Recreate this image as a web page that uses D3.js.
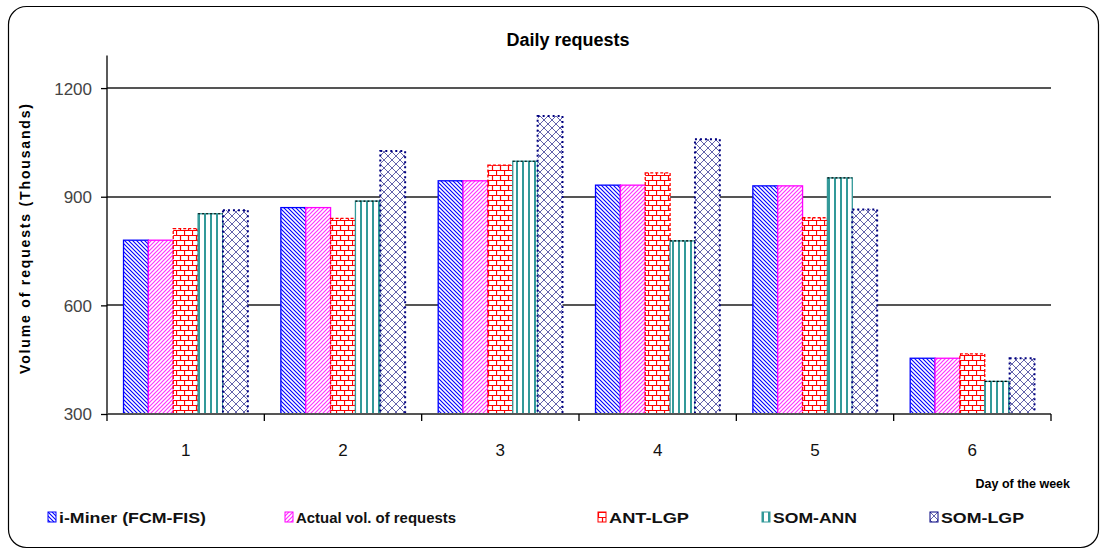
<!DOCTYPE html>
<html>
<head>
<meta charset="utf-8">
<script src="https://cdn.jsdelivr.net/npm/d3@7"></script>
<style>
  body { margin: 0; background: #fff; }
  text { font-family: "Liberation Sans", Arial, sans-serif; }
</style>
</head>
<body>
<svg id="svg" width="1105" height="554"></svg>
<script>
// data
const days = ["1", "2", "3", "4", "5", "6"];
const seriesNames = ["i-Miner (FCM-FIS)", "Actual vol. of requests", "ANT-LGP", "SOM-ANN", "SOM-LGP"];
const iMiner = [780, 870, 944, 932, 930, 454];
const actual = [780, 870, 944, 932, 930, 454];
const antLgp = [812, 840, 987, 966, 842, 466];
const somAnn = [853, 888, 998, 778, 952, 390];
const somLgp = [863, 1026, 1123, 1059, 865, 454];
const yTicks = [300, 600, 900, 1200];

const allSeries = [iMiner, actual, antLgp, somAnn, somLgp];
const patIds = ["pBlue", "pPink", "pBrick", "pTeal", "pNavy"];
const strokes = ["#0000ff", "#ff00ff", "#ff0000", "#339999", "#000080"];

let svg = d3.select("#svg");
let defs = svg.append("defs");

// patterns
let p = defs.append("pattern").attr("id", "pBlue").attr("patternUnits", "userSpaceOnUse").attr("width", 4).attr("height", 4);
p.append("rect").attr("width", 4).attr("height", 4).attr("fill", "#fff");
p.append("path").attr("d", "M-1,-1 L5,5 M-1,3 L1,5 M3,-1 L5,1").attr("stroke", "#0000ff").attr("stroke-width", 1.1);

p = defs.append("pattern").attr("id", "pPink").attr("patternUnits", "userSpaceOnUse").attr("width", 4).attr("height", 4);
p.append("rect").attr("width", 4).attr("height", 4).attr("fill", "#fff");
p.append("path").attr("d", "M-1,5 L5,-1 M-1,1 L1,-1 M3,5 L5,3").attr("stroke", "#ff33ff").attr("stroke-width", 1.2);

p = defs.append("pattern").attr("id", "pBrick").attr("patternUnits", "userSpaceOnUse").attr("width", 8).attr("height", 10);
p.append("rect").attr("width", 8).attr("height", 10).attr("fill", "#fff");
p.append("path").attr("d", "M0,0.5 H8 M0,5.5 H8 M0.5,0 V5 M4.5,5 V10").attr("stroke", "#ff0000").attr("stroke-width", 1.2);

p = defs.append("pattern").attr("id", "pTeal").attr("patternUnits", "userSpaceOnUse").attr("width", 6).attr("height", 6);
p.append("rect").attr("width", 6).attr("height", 6).attr("fill", "#fff");
p.append("rect").attr("x", 0).attr("width", 2).attr("height", 6).attr("fill", "#339999");

p = defs.append("pattern").attr("id", "pNavy").attr("patternUnits", "userSpaceOnUse").attr("width", 8).attr("height", 8);
p.append("rect").attr("width", 8).attr("height", 8).attr("fill", "#fff");
p.append("path").attr("d", "M0,0 L8,8 M8,0 L0,8").attr("stroke", "#3c3c96").attr("stroke-width", 1).attr("opacity", 0.8);

// outer frame
svg.append("rect").attr("x", 8.5).attr("y", 6.5).attr("width", 1090).attr("height", 541)
  .attr("rx", 18).attr("ry", 18).attr("fill", "#fff").attr("stroke", "#000").attr("stroke-width", 1.2);

const plotLeft = 107, plotRight = 1051, plotTop = 55.5, plotBottom = 414;

let x = d3.scaleBand().domain(days).range([plotLeft, plotRight]).paddingInner(0.21).paddingOuter(0.105);
let xs = d3.scaleBand().domain(d3.range(5)).range([0, x.bandwidth()]);
let y = d3.scaleLinear().domain([300, 1290]).range([plotBottom, plotTop]);
let xEdges = d3.scaleBand().domain(days).range([plotLeft, plotRight]);

// gridlines
svg.append("g").selectAll("line").data(yTicks.slice(1)).join("line")
  .attr("x1", plotLeft).attr("x2", plotRight)
  .attr("y1", d => Math.round(y(d))).attr("y2", d => Math.round(y(d)))
  .attr("stroke", "#555").attr("stroke-width", 2);

// bars
allSeries.forEach(function (vals, s) {
  let g = svg.append("g");
  g.selectAll("rect").data(vals).join("rect")
    .attr("x", (d, i) => x(days[i]) + xs(s))
    .attr("y", d => y(d))
    .attr("width", xs.bandwidth())
    .attr("height", d => y(300) - y(d))
    .attr("fill", "url(#" + patIds[s] + ")")
    .attr("stroke", strokes[s])
    .attr("stroke-width", s === 4 ? 2 : 1.3)
    .attr("stroke-dasharray", s === 4 ? "2,3" : (s === 2 ? "3,2" : null));
  if (s === 3) {
    // dark dashes over the teal border
    g.selectAll("line").data(vals).join("line")
      .attr("x1", (d, i) => x(days[i]) + xs(s)).attr("x2", (d, i) => x(days[i]) + xs(s) + xs.bandwidth())
      .attr("y1", d => y(d)).attr("y2", d => y(d))
      .attr("stroke", "#000").attr("stroke-dasharray", "2,2").attr("stroke-width", 1.2);
  }
});

// y axis
let yAxis = svg.append("g").attr("transform", "translate(" + plotLeft + ",0)")
  .call(d3.axisLeft(y).tickValues(yTicks).tickSize(6).tickPadding(9).tickFormat(d3.format("d")));
yAxis.select(".domain").attr("d", "M0," + plotTop + "V" + plotBottom).attr("stroke", "#000").attr("stroke-width", 1.3);
yAxis.selectAll(".tick line").attr("stroke", "#000").attr("stroke-width", 1.3);
yAxis.selectAll(".tick text").style("font-size", "17px").attr("fill", "#444").attr("dy", "0.35em");

// x axis
let xAxis = svg.append("g").attr("transform", "translate(0," + plotBottom + ")");
xAxis.append("line").attr("x1", plotLeft).attr("x2", plotRight).attr("stroke", "#555").attr("stroke-width", 2);
xAxis.selectAll(".tk").data(days.concat(["end"])).join("line").attr("class", "tk")
  .attr("x1", (d, i) => i < days.length ? xEdges(d) : plotRight)
  .attr("x2", (d, i) => i < days.length ? xEdges(d) : plotRight)
  .attr("y1", 0).attr("y2", 7).attr("stroke", "#000").attr("stroke-width", 1.3);
xAxis.selectAll(".lbl").data(days).join("text").attr("class", "lbl")
  .attr("x", d => x(d) + x.bandwidth() / 2).attr("y", 42)
  .attr("text-anchor", "middle").style("font-size", "17px").attr("fill", "#111").text(d => d);

// titles
svg.append("text").attr("x", 568).attr("y", 46).attr("text-anchor", "middle")
  .style("font-size", "18px").style("font-weight", "bold").text("Daily requests");
svg.append("text").attr("transform", "translate(30,239) rotate(-90)").attr("text-anchor", "middle")
  .attr("textLength", 270).attr("lengthAdjust", "spacing")
  .style("font-size", "14px").style("font-weight", "bold").text("Volume of requests (Thousands)");
svg.append("text").attr("x", 1070).attr("y", 488).attr("text-anchor", "end")
  .style("font-size", "12.5px").style("font-weight", "bold").text("Day of the week");

// legend
const legX = [48, 285, 598, 762, 930];
const legW = [147, 160, 80, 84, 83];
let leg = svg.append("g").selectAll("g").data(seriesNames).join("g")
  .attr("transform", (d, i) => "translate(" + legX[i] + ",512)");
leg.append("rect").attr("width", 8).attr("height", 10)
  .attr("fill", (d, i) => "url(#" + patIds[i] + ")")
  .attr("stroke", (d, i) => strokes[i]).attr("stroke-width", 1);
leg.append("text").attr("x", 11).attr("y", 11)
  .attr("textLength", (d, i) => legW[i]).attr("lengthAdjust", "spacingAndGlyphs")
  .style("font-size", "15px").style("font-weight", "bold").attr("fill", "#111").text(d => d);
</script>
</body>
</html>
